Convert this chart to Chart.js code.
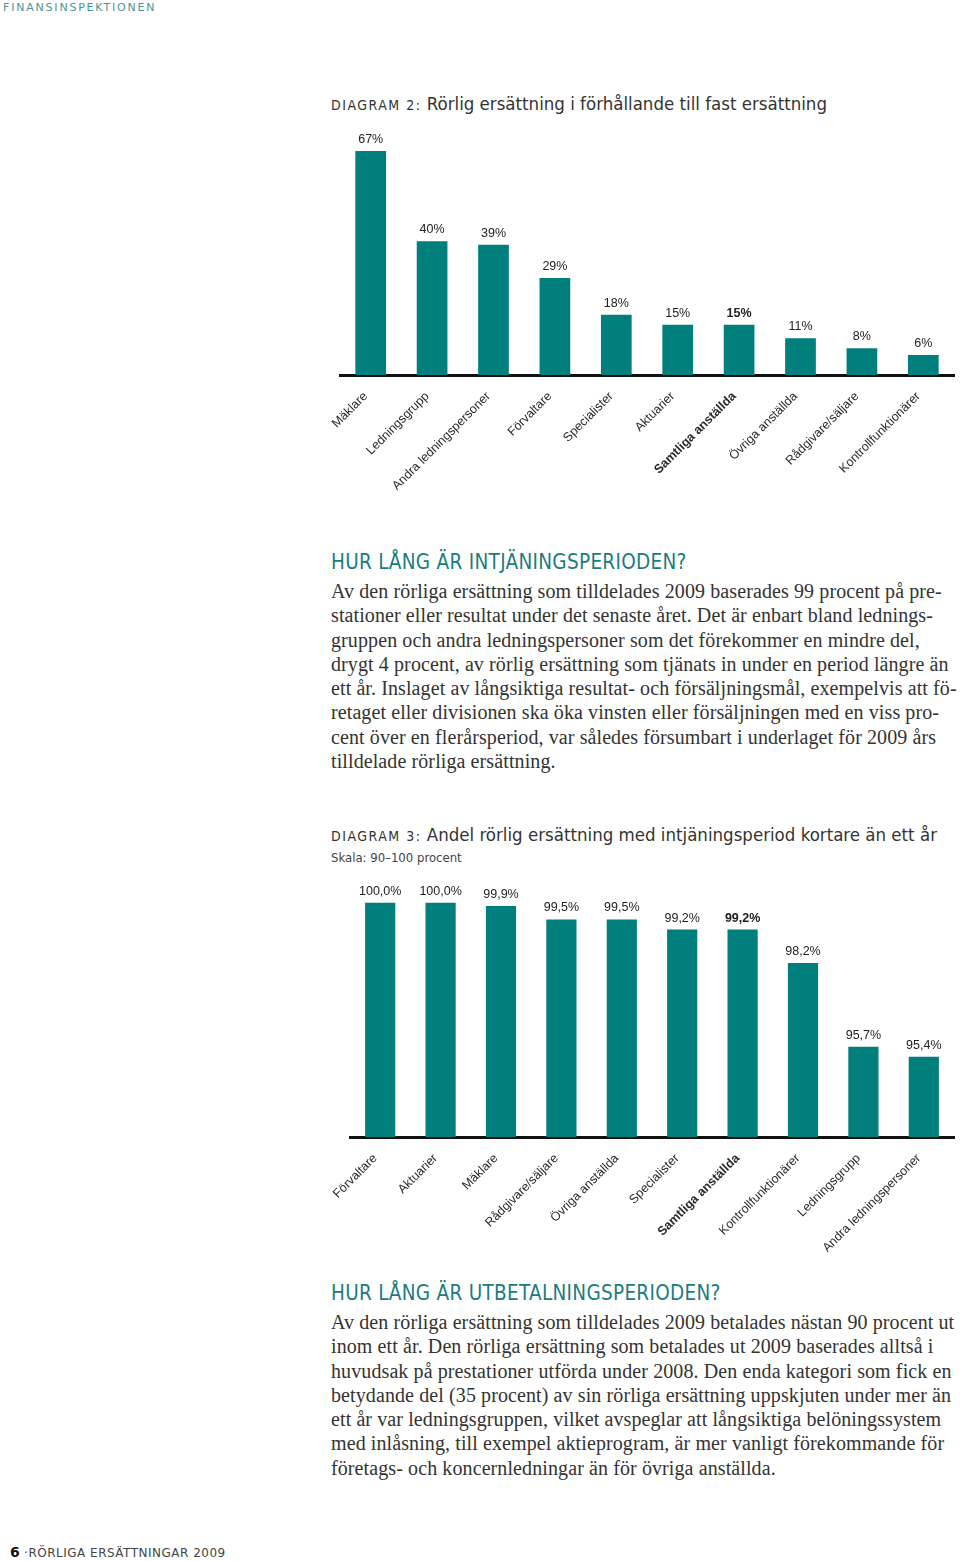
<!DOCTYPE html>
<html>
<head>
<meta charset="utf-8">
<script src="https://cdn.jsdelivr.net/npm/chart.js@4.4.1/dist/chart.umd.min.js"></script>
<style>
  html, body { margin: 0; padding: 0; background: #fff; }
  body { width: 960px; height: 1561px; position: relative; overflow: hidden; }
  .abs { position: absolute; white-space: nowrap; }
  .brand { left: 3px; top: 1px; font: 11px "DejaVu Sans", sans-serif; letter-spacing: 1.8px; color: #4f9396; }
  .dtitle { left: 331px; font-family: "DejaVu Sans Condensed", "DejaVu Sans", sans-serif; color: #333; font-size: 18.5px; }
  .dtitle .sc { font-size: 14px; letter-spacing: 1.5px; }
  .scale { left: 331px; font: 13px "DejaVu Sans Condensed", sans-serif; color: #444; }
  .head { left: 331px; font: 20.5px "DejaVu Sans Condensed", sans-serif; letter-spacing: 0.3px; color: #1b7c80; }
  .body { left: 331px; font: 20px "Liberation Serif", serif; letter-spacing: 0.1px; color: #333; line-height: 24.3px; }
  .foot { left: 10px; top: 1544px; font: 12px "DejaVu Sans", sans-serif; letter-spacing: 0.5px; color: #444; }
  .foot b { color: #111; font-size: 14px; letter-spacing: 0; }
  .chartbox { position: absolute; left: 320px; width: 640px; }
</style>
</head>
<body>
<div class="abs brand">FINANSINSPEKTIONEN</div>

<div class="abs dtitle" style="top:93px"><span class="sc">DIAGRAM 2:</span> Rörlig ersättning i förhållande till fast ersättning</div>
<div class="chartbox" style="top:120px;height:390px"><canvas id="chart2"></canvas></div>

<div class="abs head" style="top:550px">HUR LÅNG ÄR INTJÄNINGSPERIODEN?</div>
<div class="abs body" style="top:579px">Av den rörliga ersättning som tilldelades 2009 baserades 99 procent på pre-<br>stationer eller resultat under det senaste året. Det är enbart bland lednings-<br>gruppen och andra ledningspersoner som det förekommer en mindre del,<br>drygt 4 procent, av rörlig ersättning som tjänats in under en period längre än<br>ett år. Inslaget av långsiktiga resultat- och försäljningsmål, exempelvis att fö-<br>retaget eller divisionen ska öka vinsten eller försäljningen med en viss pro-<br>cent över en flerårsperiod, var således försumbart i underlaget för 2009 års<br>tilldelade rörliga ersättning.</div>

<div class="abs dtitle" style="top:824px"><span class="sc">DIAGRAM 3:</span> Andel rörlig ersättning med intjäningsperiod kortare än ett år</div>
<div class="abs scale" style="top:850px">Skala: 90–100 procent</div>
<div class="chartbox" style="top:870px;height:400px"><canvas id="chart3"></canvas></div>

<div class="abs head" style="top:1281px">HUR LÅNG ÄR UTBETALNINGSPERIODEN?</div>
<div class="abs body" style="top:1310px">Av den rörliga ersättning som tilldelades 2009 betalades nästan 90 procent ut<br>inom ett år. Den rörliga ersättning som betalades ut 2009 baserades alltså i<br>huvudsak på prestationer utförda under 2008. Den enda kategori som fick en<br>betydande del (35 procent) av sin rörliga ersättning uppskjuten under mer än<br>ett år var ledningsgruppen, vilket avspeglar att långsiktiga belöningssystem<br>med inlåsning, till exempel aktieprogram, är mer vanligt förekommande för<br>företags- och koncernledningar än för övriga anställda.</div>

<div class="abs foot"><b>6</b> ·RÖRLIGA ERSÄTTNINGAR 2009</div>

<script>
// Diagram 2: rörlig ersättning i förhållande till fast (procent)
const categories2 = ['Mäklare', 'Ledningsgrupp', 'Andra ledningspersoner', 'Förvaltare', 'Specialister',
    'Aktuarier', 'Samtliga anställda', 'Övriga anställda', 'Rådgivare/säljare', 'Kontrollfunktionärer'];
const values2 = [67, 40, 39, 29, 18, 15, 15, 11, 8, 6];

// Diagram 3: andel med intjäningsperiod kortare än ett år (procent)
const categories3 = ['Förvaltare', 'Aktuarier', 'Mäklare', 'Rådgivare/säljare', 'Övriga anställda',
    'Specialister', 'Samtliga anställda', 'Kontrollfunktionärer', 'Ledningsgrupp', 'Andra ledningspersoner'];
const values3 = [100.0, 100.0, 99.9, 99.5, 99.5, 99.2, 99.2, 98.2, 95.7, 95.4];

const boldIndex = 6; // Samtliga anställda
const teal = '#007f7c';
const sansFamily = '"Liberation Sans", Arial, sans-serif';

const valueLabels = {
    id: 'valueLabels',
    afterDatasetsDraw(chart, args, opts) {
        const ctx = chart.ctx;
        const meta = chart.getDatasetMeta(0);
        const data = chart.data.datasets[0].data;
        ctx.save();
        ctx.fillStyle = '#222';
        ctx.textAlign = 'center';
        ctx.textBaseline = 'alphabetic';
        meta.data.forEach((bar, i) => {
            ctx.font = (i === boldIndex ? 'bold ' : '') + '12.5px ' + sansFamily;
            ctx.fillText(opts.format(data[i]), bar.x, bar.y - 8);
        });
        ctx.restore();
    }
};

function makeChart(id, labels, values, yMin, yMax, pad, format) {
    const ctx = document.getElementById(id).getContext('2d');
    return new Chart(ctx, {
        type: 'bar',
        data: {
            labels: labels,
            datasets: [{
                data: values,
                backgroundColor: teal,
                borderWidth: 0,
                categoryPercentage: 1,
                barPercentage: 0.5
            }]
        },
        options: {
            responsive: true,
            maintainAspectRatio: false,
            animation: false,
            layout: { padding: pad },
            plugins: {
                legend: { display: false },
                tooltip: { enabled: false },
                valueLabels: { format: format }
            },
            scales: {
                x: {
                    grid: { display: false, drawTicks: false },
                    border: { display: true, color: '#111', width: 3 },
                    afterFit: (scale) => { scale.height = pad.axis; },
                    ticks: {
                        autoSkip: false,
                        minRotation: 45,
                        maxRotation: 45,
                        padding: 14,
                        labelOffset: -5,
                        color: '#2a2a2a',
                        font: (c) => ({
                            family: sansFamily,
                            size: 12.5,
                            weight: c.index === boldIndex ? 'bold' : 'normal'
                        })
                    }
                },
                y: {
                    display: false,
                    min: yMin,
                    max: yMax
                }
            }
        },
        plugins: [valueLabels]
    });
}

document.addEventListener('DOMContentLoaded', () => {
    makeChart('chart2', categories2, values2, 0, 70,
        { top: 21, left: 20, right: 6, bottom: 0, axis: 135 },
        (v) => v + '%');
    makeChart('chart3', categories3, values3, 93, 100.5,
        { top: 16, left: 30, right: 6, bottom: 0, axis: 133 },
        (v) => v.toFixed(1).replace('.', ',') + '%');
});
</script>
</body>
</html>
